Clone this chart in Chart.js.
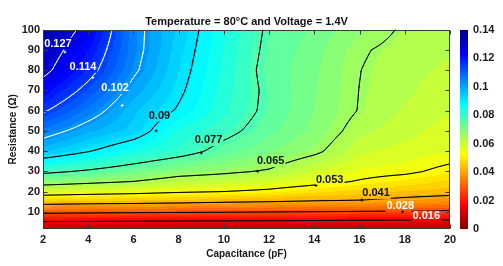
<!DOCTYPE html>
<html>
<head>
<meta charset="utf-8">
<script src="https://cdn.jsdelivr.net/npm/chart.js@4.4.1/dist/chart.umd.min.js"></script>
<style>
  html, body { margin: 0; padding: 0; background: #fff; }
  canvas { display: block; }
</style>
</head>
<body>
<canvas id="contourChart" width="503" height="266"></canvas>
<script>
// grid: columns = capacitance (pF), rows = resistance (ohm)
const capacitance = [2, 4, 6, 8, 10, 12, 14, 16, 18, 20];
const resistance = [1.5, 6, 10, 15, 20, 25, 30, 40, 50, 60, 70, 80, 90, 100];
const values = [
  [0.009, 0.009, 0.009, 0.009, 0.009, 0.009, 0.009, 0.009, 0.009, 0.009],
  [0.0176, 0.0174, 0.0172, 0.0170, 0.0168, 0.0166, 0.0164, 0.0162, 0.0160, 0.0158],
  [0.0304, 0.0298, 0.0294, 0.0290, 0.0287, 0.0283, 0.0279, 0.0275, 0.0272, 0.0266],
  [0.0449, 0.0440, 0.0435, 0.0428, 0.0418, 0.0410, 0.0403, 0.0400, 0.0385, 0.0370],
  [0.0577, 0.0565, 0.0555, 0.0540, 0.0530, 0.0515, 0.0485, 0.0465, 0.0445, 0.0435],
  [0.0691, 0.0670, 0.0650, 0.0615, 0.0603, 0.0580, 0.0555, 0.0525, 0.0497, 0.0470],
  [0.0791, 0.0760, 0.0725, 0.0685, 0.0665, 0.0643, 0.0588, 0.0555, 0.0545, 0.0510],
  [0.0960, 0.0905, 0.0848, 0.0805, 0.0745, 0.0705, 0.0665, 0.0595, 0.0578, 0.0565],
  [0.1055, 0.0987, 0.0940, 0.0836, 0.0792, 0.0736, 0.0692, 0.0625, 0.0598, 0.0575],
  [0.1150, 0.1056, 0.0960, 0.0893, 0.0820, 0.0752, 0.0700, 0.0647, 0.0612, 0.0590],
  [0.1226, 0.1115, 0.0997, 0.0912, 0.0827, 0.0754, 0.0703, 0.0649, 0.0622, 0.0600],
  [0.1295, 0.1170, 0.1033, 0.0925, 0.0833, 0.0745, 0.0706, 0.0651, 0.0625, 0.0610],
  [0.1325, 0.1205, 0.1045, 0.0935, 0.0839, 0.0752, 0.0712, 0.0656, 0.0633, 0.0620],
  [0.1345, 0.1245, 0.1045, 0.0945, 0.0845, 0.0758, 0.0722, 0.0680, 0.0642, 0.0630]
];

const contourLevels = [0.016, 0.028, 0.041, 0.053, 0.065, 0.077, 0.09, 0.102, 0.114, 0.127];
const labelX = [18.95, 17.8, 16.73, 14.68, 12.07, 9.32, 7.15, 5.19, 3.77, 2.66];
const labelY = [7.7, 12.8, 19.2, 25.8, 35, 45.4, 57.5, 71.1, 81.7, 93.1];
const markerX = [null, 17.9, 16.1, 14.07, 11.5, 9.0, 7.0, 5.5, 4.2, 2.97];
const markerY = [null, 10, 15.8, 23, 30, 39.1, 50, 62.5, 76.3, 88.9];

const xTicks = [2, 4, 6, 8, 10, 12, 14, 16, 18, 20];
const yTicks = [10, 20, 30, 40, 50, 60, 70, 80, 90, 100];
const colorTicks = [0, 0.02, 0.04, 0.06, 0.08, 0.1, 0.12, 0.14];
const colorMax = 0.14;

function findCell(arr, v) {
  let i = 0;
  while (i < arr.length - 2 && v > arr[i + 1]) i++;
  return i;
}

function fieldAt(x, y) {
  const i = findCell(capacitance, x);
  const j = findCell(resistance, y);
  let tx = (x - capacitance[i]) / (capacitance[i + 1] - capacitance[i]);
  let ty = (y - resistance[j]) / (resistance[j + 1] - resistance[j]);
  tx = Math.max(0, Math.min(1, tx));
  ty = Math.max(0, Math.min(1, ty));
  const a = values[j][i], b = values[j][i + 1];
  const c = values[j + 1][i], d = values[j + 1][i + 1];
  return (a * (1 - tx) + b * tx) * (1 - ty) + (c * (1 - tx) + d * tx) * ty;
}

// reversed jet
function jetR(v) {
  const t = 1 - Math.max(0, Math.min(1, v / colorMax));
  const cl = z => Math.max(0, Math.min(1, z));
  return [
    Math.round(255 * cl(1.5 - Math.abs(4 * t - 3))),
    Math.round(255 * cl(1.5 - Math.abs(4 * t - 2))),
    Math.round(255 * cl(1.5 - Math.abs(4 * t - 1)))
  ];
}

function segmentsFor(grid, xs, ys, level) {
  const segs = [];
  for (let j = 0; j < ys.length - 1; j++) {
    for (let i = 0; i < xs.length - 1; i++) {
      const v0 = grid[j][i], v1 = grid[j][i + 1], v2 = grid[j + 1][i + 1], v3 = grid[j + 1][i];
      const pts = [];
      const edge = (a, b, xa, ya, xb, yb) => {
        if ((a < level) !== (b < level)) {
          const t = (level - a) / (b - a);
          pts.push([xa + (xb - xa) * t, ya + (yb - ya) * t]);
        }
      };
      edge(v0, v1, xs[i], ys[j], xs[i + 1], ys[j]);
      edge(v1, v2, xs[i + 1], ys[j], xs[i + 1], ys[j + 1]);
      edge(v2, v3, xs[i + 1], ys[j + 1], xs[i], ys[j + 1]);
      edge(v3, v0, xs[i], ys[j + 1], xs[i], ys[j]);
      if (pts.length === 2) segs.push(pts);
      else if (pts.length === 4) { segs.push([pts[0], pts[1]]); segs.push([pts[2], pts[3]]); }
    }
  }
  return segs;
}

const isWhiteLine = lvl => lvl > 0.1;
const isWhiteLabel = lvl => lvl > 0.1 || lvl < 0.03;
const labelFont = 'bold 11px "Liberation Sans", Arial, sans-serif';

const contourPlugin = {
  id: 'contour',
  beforeDatasetsDraw(chart) {
    const { ctx, chartArea: area, scales } = chart;
    const xs = scales.x, ys = scales.y, cs = scales.c;
    const L = Math.round(area.left), T = Math.round(area.top);
    const W = Math.round(area.right) - L, H = Math.round(area.bottom) - T;

    // filled field
    const off = document.createElement('canvas');
    off.width = W; off.height = H;
    const octx = off.getContext('2d');
    const img = octx.createImageData(W, H);
    const step = colorMax / 50;
    for (let py = 0; py < H; py++) {
      const yv = ys.getValueForPixel(T + py + 0.5);
      for (let px = 0; px < W; px++) {
        const xv = xs.getValueForPixel(L + px + 0.5);
        let v = fieldAt(xv, yv);
        v = (Math.floor(v / step) + 0.5) * step;
        const c = jetR(v);
        const k = (py * W + px) * 4;
        img.data[k] = c[0]; img.data[k + 1] = c[1]; img.data[k + 2] = c[2]; img.data[k + 3] = 255;
      }
    }
    octx.putImageData(img, 0, 0);
    ctx.drawImage(off, L, T);

    // colorbar
    const cbLeft = cs.left + 10;
    for (let py = Math.round(cs.top); py < Math.round(cs.bottom); py++) {
      const c = jetR(cs.getValueForPixel(py + 0.5));
      ctx.fillStyle = `rgb(${c[0]},${c[1]},${c[2]})`;
      ctx.fillRect(cbLeft, py, 8, 1);
    }

    // sample field on a fine pixel grid for the contour lines
    const gx = [], gy = [];
    for (let px = area.left; px < area.right; px += 2) gx.push(px);
    gx.push(area.right);
    for (let py = area.top; py < area.bottom; py += 2) gy.push(py);
    gy.push(area.bottom);
    const grid = gy.map(py => {
      const yv = ys.getValueForPixel(py);
      return gx.map(px => fieldAt(xs.getValueForPixel(px), yv));
    });

    // label boxes
    ctx.font = labelFont;
    const boxes = contourLevels.map((lvl, k) => {
      const text = String(lvl);
      const w = ctx.measureText(text).width;
      const cx = xs.getPixelForValue(labelX[k]);
      const cy = ys.getPixelForValue(labelY[k]);
      return { text, cx, cy, w };
    });

    ctx.save();
    ctx.beginPath();
    ctx.rect(area.left, area.top, area.right - area.left, area.bottom - area.top);
    boxes.forEach(b => ctx.rect(b.cx - b.w / 2 - 1, b.cy - 6, b.w + 2, 12));
    ctx.clip('evenodd');
    ctx.lineWidth = 1;
    ctx.lineCap = 'round';
    contourLevels.forEach(lvl => {
      const segs = segmentsFor(grid, gx, gy, lvl);
      ctx.strokeStyle = isWhiteLine(lvl) ? '#ffffff' : '#000000';
      ctx.beginPath();
      segs.forEach(s => { ctx.moveTo(s[0][0], s[0][1]); ctx.lineTo(s[1][0], s[1][1]); });
      ctx.stroke();
    });
    ctx.restore();

    // markers and labels
    ctx.save();
    contourLevels.forEach((lvl, k) => {
      if (markerX[k] !== null) {
        const mx = xs.getPixelForValue(markerX[k]), my = ys.getPixelForValue(markerY[k]);
        ctx.strokeStyle = isWhiteLine(lvl) ? '#ffffff' : '#000000';
        ctx.beginPath();
        ctx.moveTo(mx - 1.5, my); ctx.lineTo(mx + 1.5, my);
        ctx.moveTo(mx, my - 1.5); ctx.lineTo(mx, my + 1.5);
        ctx.stroke();
      }
      const b = boxes[k];
      ctx.font = labelFont;
      ctx.fillStyle = isWhiteLabel(lvl) ? '#ffffff' : '#111111';
      ctx.textAlign = 'center';
      ctx.textBaseline = 'middle';
      ctx.fillText(b.text, b.cx, b.cy);
    });
    ctx.restore();

    // box and inward ticks
    ctx.save();
    ctx.strokeStyle = '#3a3a3a';
    ctx.lineWidth = 1;
    const l = L + 0.5, r = L + W - 0.5, t = T + 0.5, bt = T + H - 0.5;
    ctx.beginPath();
    ctx.rect(l, t, r - l, bt - t);
    xTicks.forEach(v => {
      const px = Math.round(xs.getPixelForValue(v)) + 0.5;
      ctx.moveTo(px, bt); ctx.lineTo(px, bt - 4);
      ctx.moveTo(px, t); ctx.lineTo(px, t + 4);
    });
    yTicks.forEach(v => {
      const py = Math.round(ys.getPixelForValue(v)) + 0.5;
      ctx.moveTo(l, py); ctx.lineTo(l + 4, py);
      ctx.moveTo(r, py); ctx.lineTo(r - 4, py);
    });
    ctx.stroke();
    ctx.restore();
  }
};

Chart.defaults.font.family = '"Liberation Sans", Arial, Helvetica, sans-serif';
Chart.defaults.font.weight = 'bold';
Chart.defaults.color = '#1a1a1a';

const tickFont = { size: 11, weight: 'bold' };

new Chart(document.getElementById('contourChart'), {
  type: 'scatter',
  data: { datasets: [] },
  options: {
    responsive: false,
    animation: false,
    devicePixelRatio: 1,
    layout: { padding: 0 },
    plugins: {
      legend: { display: false },
      tooltip: { enabled: false },
      title: {
        display: true,
        text: 'Temperature = 80°C and Voltage = 1.4V',
        fullSize: false,
        font: { size: 11, weight: 'bold' },
        padding: { top: 1, bottom: 1 },
        color: '#111'
      }
    },
    scales: {
      x: {
        type: 'linear',
        min: 2,
        max: 20,
        afterBuildTicks: s => { s.ticks = xTicks.map(v => ({ value: v })); },
        afterFit: s => { s.height = 37; },
        grid: { display: false, drawTicks: false },
        border: { display: false },
        ticks: { font: tickFont, padding: 4, maxRotation: 0 },
        title: { display: true, text: 'Capacitance (pF)', font: { size: 10, weight: 'bold' }, padding: { top: 0, bottom: 6 } }
      },
      y: {
        type: 'linear',
        min: 1.5,
        max: 100,
        afterBuildTicks: s => { s.ticks = yTicks.map(v => ({ value: v })); },
        afterFit: s => { s.width = 43; },
        grid: { display: false, drawTicks: false },
        border: { display: false },
        ticks: { font: tickFont, padding: 3 },
        title: { display: true, text: 'Resistance (Ω)', font: { size: 10, weight: 'bold' }, padding: { top: 7, bottom: 0 } }
      },
      c: {
        type: 'linear',
        position: 'right',
        min: 0,
        max: colorMax,
        afterBuildTicks: s => { s.ticks = colorTicks.map(v => ({ value: v })); },
        afterFit: s => { s.width = 53; },
        grid: { display: false, drawTicks: false },
        border: { display: false },
        ticks: { font: tickFont, padding: 23, callback: v => String(v) }
      }
    }
  },
  plugins: [contourPlugin]
});
</script>
</body>
</html>
